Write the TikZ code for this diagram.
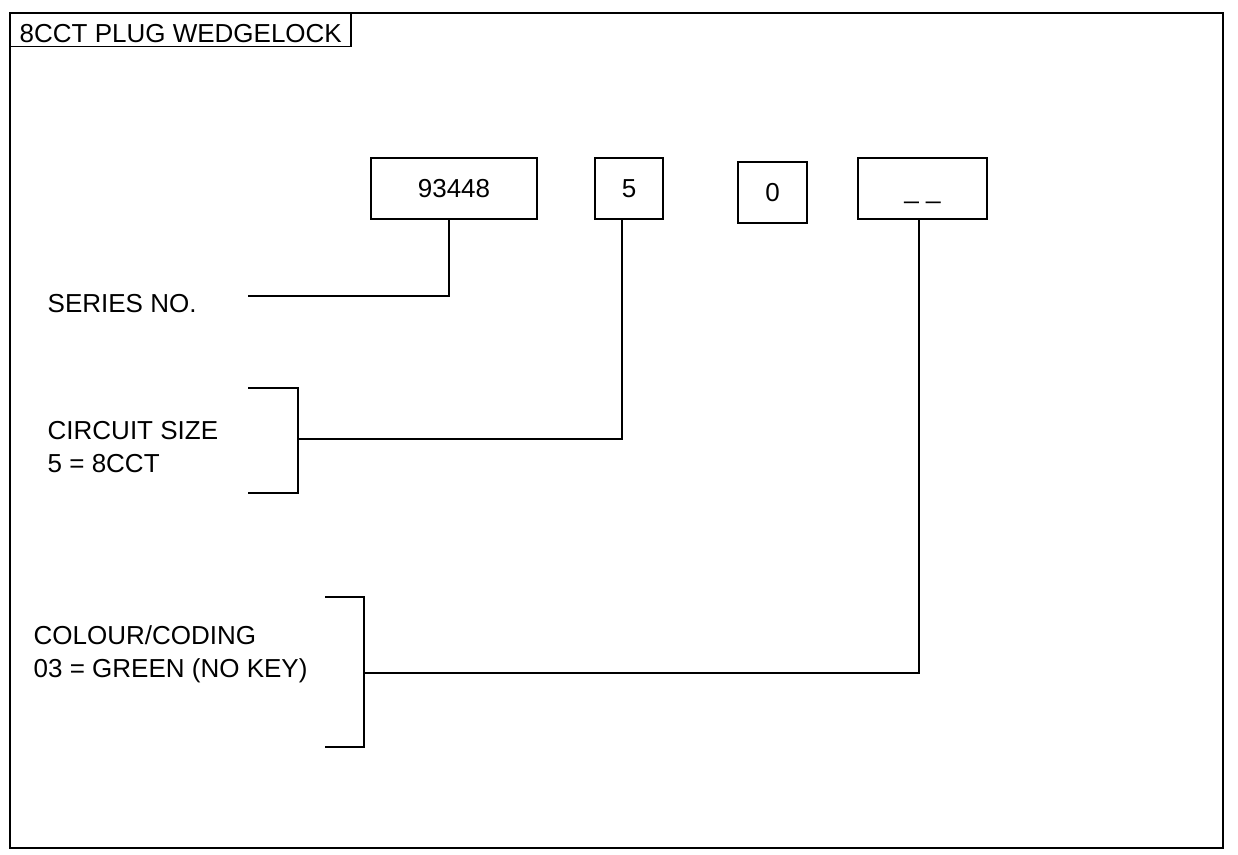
\documentclass[tikz,border=0pt]{standalone}
\usepackage{fontspec}
\setmainfont{Liberation Sans}
\begin{document}
\begin{tikzpicture}[
x=0.5pt,y=-0.5pt,
line width=0.7pt,
every node/.style={
font=\fontsize{13}{16.5}\selectfont,
inner sep=0pt
},
codebox/.style={
draw,
minimum height=30.5pt
},
label text/.style={
anchor=base west,
align=left
}
]

\useasboundingbox (0,0) rectangle (1238,855);

\draw (10,13) rectangle (1223,848);

\node[draw, anchor=north west, inner xsep=4.5pt,
text height=14.5pt, text depth=2pt] (title) at (10,13)
{8CCT PLUG WEDGELOCK};

\node[codebox, minimum width=83pt] (series) at (454,188.5)
{93448};

\node[codebox, minimum width=34pt] (size) at (629,188.5)
{5};

\node[codebox, minimum width=34.5pt] (zero) at (772.5,192.5)
{0};

\node[codebox, minimum width=64.5pt, text height=10pt, text depth=0pt] (colour) at (922.5,188.5)
{\_ \_};

\node[label text] (seriesL) at (47,313)
{SERIES NO.};

\node[label text] (sizeL) at (47,473)
{CIRCUIT SIZE\\5 = 8CCT};

\node[label text] (colourL) at (33,677)
{COLOUR/CODING\\03 = GREEN (NO KEY)};

\coordinate (seriesEnd) at (248,296);
\coordinate (sizeMid) at (298,439);
\coordinate (colourMid) at (364,673);

\draw (248,388) -- (298,388) -- (298,493) -- (248,493);
\draw (325,597) -- (364,597) -- (364,747) -- (325,747);

\draw (series.south -| 449,0) |- (seriesEnd);
\draw (size.south -| 622,0) |- (sizeMid);
\draw (colour.south -| 919,0) |- (colourMid);

\end{tikzpicture}
\end{document}
